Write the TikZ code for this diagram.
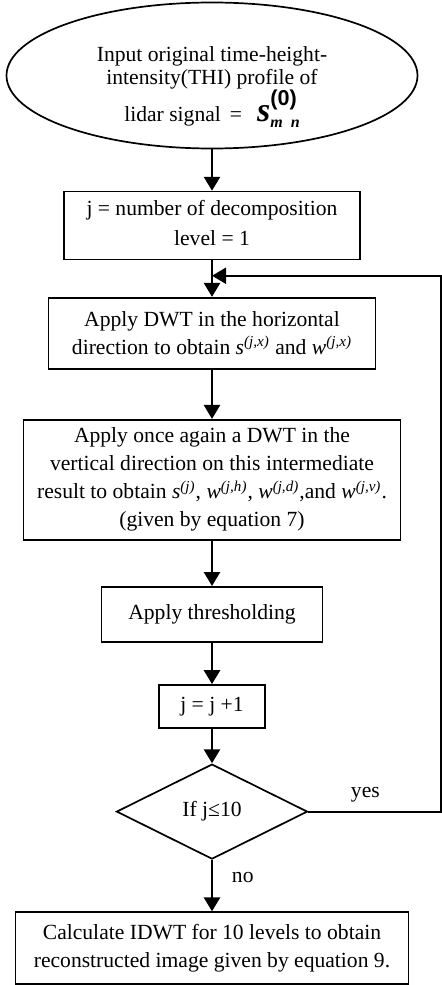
\documentclass[tikz,border=0pt]{standalone}
\usepackage{fontspec}
\setmainfont{Liberation Serif}
\newfontfamily\arialfont{Liberation Sans}
\usetikzlibrary{positioning,shapes.geometric,arrows.meta,calc}

\begin{document}
\begin{tikzpicture}[node distance=20pt, auto]
	\tikzset{
		mybox/.style={rectangle, draw=black, line width=0.85pt, inner sep=0pt, align=center, font=\fontsize{10.8}{14}\selectfont},
		mystart/.style={ellipse, draw=black, line width=0.85pt, inner sep=0pt, align=center, minimum width=205.5pt, minimum height=73pt, font=\fontsize{10.8}{11.5}\selectfont},
		mydecision/.style={diamond, draw=black, line width=0.85pt, inner sep=0pt, aspect=2, minimum width=95.5pt, minimum height=47.5pt, font=\fontsize{10.8}{14}\selectfont},
		myarrow/.style={-{Triangle[length=7pt,width=8pt]}, line width=1.3pt},
		myarrow1/.style={-{Triangle[length=7pt,width=8pt]}, line width=1pt},
		mylabel/.style={font=\fontsize{10.8}{14}\selectfont}
	}
	\useasboundingbox (0,0) rectangle (221pt,-492.5pt);
	\node[mystart] (input) at (106pt,-37.75pt) {\raisebox{-8.2pt}[0pt][0pt]{\begin{tabular}{@{}c@{}}Input original time-height-\\ intensity(THI) profile of\\[7pt] lidar signal \,=\;\, \smash{{\fontsize{17}{17}\selectfont\textbf{\textit{s}}}\rlap{\raisebox{8pt}{\arialfont\bfseries(0)}}\raisebox{-3pt}{\fontsize{8}{8}\selectfont\textbf{\textit{m\,\,\,n}}}}\end{tabular}}};
	\node[mybox, minimum width=148pt, minimum height=34pt, below=20.7pt of input] (level) {j = number of decomposition\\[1pt] level = 1\rule[-3pt]{0pt}{3pt}};
	\node[mybox, minimum width=163.5pt, minimum height=35.5pt, below=18.2pt of level] (dwtx) {Apply DWT in the horizontal\\ direction to obtain \textit{s}\textsuperscript{\textit{(j,x)}} and \textit{w}\textsuperscript{\textit{(j,x)}}};
	\node[mybox, minimum width=188.5pt, minimum height=60pt, below=24.7pt of dwtx] (dwty) {Apply once again a DWT in the\\ vertical direction on this intermediate\\ result to obtain \textit{s}\textsuperscript{\textit{(j)}}, \textit{w}\textsuperscript{\textit{(j,h)}}, \textit{w}\textsuperscript{\textit{(j,d)}},and \textit{w}\textsuperscript{\textit{(j,v)}}.\\ (given by equation 7)};
	\node[mybox, minimum width=110.5pt, minimum height=27.5pt, below=22.7pt of dwty] (thr) {Apply thresholding};
	\node[mybox, minimum width=53pt, minimum height=21.5pt, below=20.7pt of thr] (incr) {j = j +1};
	\node[mydecision, below=17.2pt of incr] (test) {If j≤10};
	\node[mybox, minimum width=196.5pt, minimum height=36pt, below=25.7pt of test] (idwt) {Calculate IDWT for 10 levels to obtain\\ reconstructed image given by equation 9.};

	\coordinate (loop) at ($(level.south)!0.42!(dwtx.north)$);
	\coordinate (edge) at (220.5pt,0);

	\draw[myarrow] (input) -- (level);
	\draw[myarrow] (level) -- (dwtx);
	\draw[myarrow] (dwtx) -- (dwty);
	\draw[myarrow] (dwty) -- (thr);
	\draw[myarrow] (thr) -- (incr);
	\draw[myarrow] (incr) -- (test);
	\draw[myarrow] (test) -- node[mylabel, right=6pt, pos=0.35] {no} (idwt);
	\draw[myarrow1] (test.east) -- node[mylabel, above=1pt, pos=0.43] {yes} (test.east -| edge) |- (loop);
\end{tikzpicture}
\end{document}
